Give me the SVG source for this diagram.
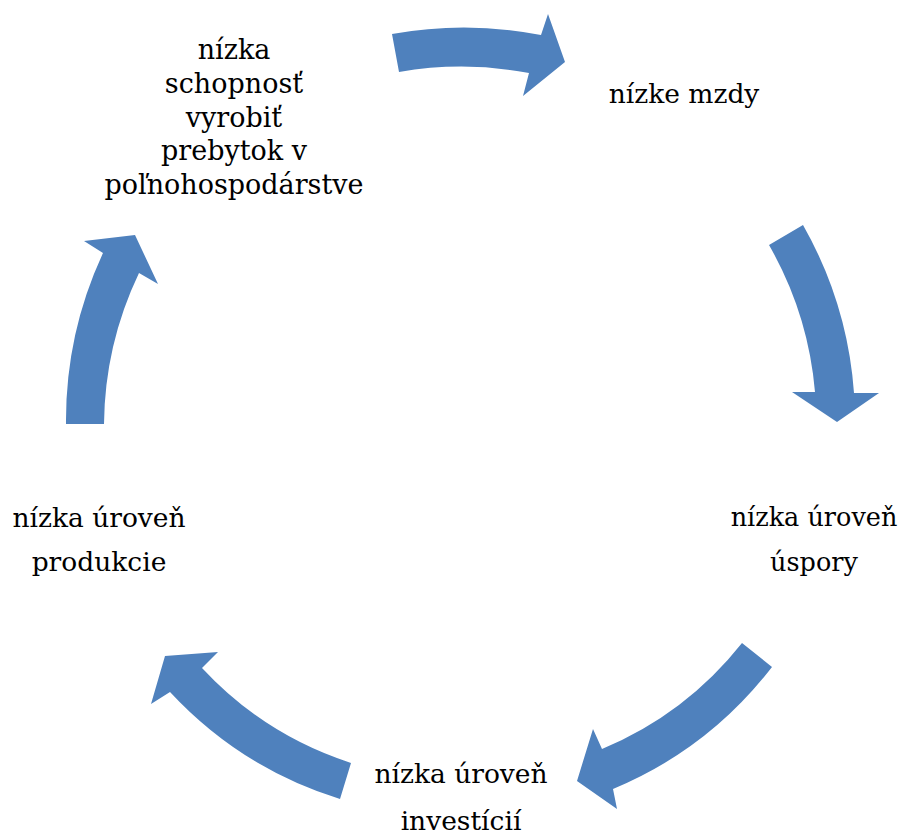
<svg xmlns="http://www.w3.org/2000/svg" width="909" height="838" viewBox="0 0 909 838">
<style>
.arrow{fill:#4F81BD;stroke:none}
.lbl{font-family:"DejaVu Serif","Liberation Serif",serif;fill:#000;text-anchor:middle}
</style>
<rect width="909" height="838" fill="#fff"/>
<g id="connectors">
<path class="arrow" d="M392,34 A402,402 0 0 1 541,35 L548,14 L565,62 L523,96 L529,73 A363,363 0 0 0 399,72 Z"/>
<path class="arrow" d="M803,225 A398,398 0 0 1 854,393 L879,393 L837,422 L792,392 L815,392 A357,357 0 0 0 769,245 Z"/>
<path class="arrow" d="M772,667 A390,390 0 0 1 613,789 L617,809 L577,781 L593,729 L602,749 A350,350 0 0 0 742,643 Z"/>
<path class="arrow" d="M340,799 A390,390 0 0 1 170,692 L151,704 L165,656 L218,652 L202,668 A351,351 0 0 0 351,763 Z"/>
<path class="arrow" d="M66,424 A398,398 0 0 1 103,253 L84,241 L135,235 L158,284 L139,273 A358,358 0 0 0 104,424 Z"/>
</g>
<g id="node-schopnost" class="lbl" font-size="27">
<text x="234" y="59">nízka</text>
<text x="234" y="93">schopnosť</text>
<text x="234" y="127">vyrobiť</text>
<text x="234" y="160">prebytok v</text>
<text x="234" y="194">poľnohospodárstve</text>
</g>
<g id="node-mzdy" class="lbl" font-size="26.5">
<text x="684" y="103">nízke mzdy</text>
</g>
<g id="node-uspory" class="lbl" font-size="25.5">
<text x="814" y="526">nízka úroveň</text>
<text x="814" y="571">úspory</text>
</g>
<g id="node-investicie" class="lbl" font-size="26.5">
<text x="461" y="783">nízka úroveň</text>
<text x="461" y="830">investícií</text>
</g>
<g id="node-produkcia" class="lbl" font-size="26.5">
<text x="99" y="527">nízka úroveň</text>
<text x="99" y="571">produkcie</text>
</g>
</svg>
